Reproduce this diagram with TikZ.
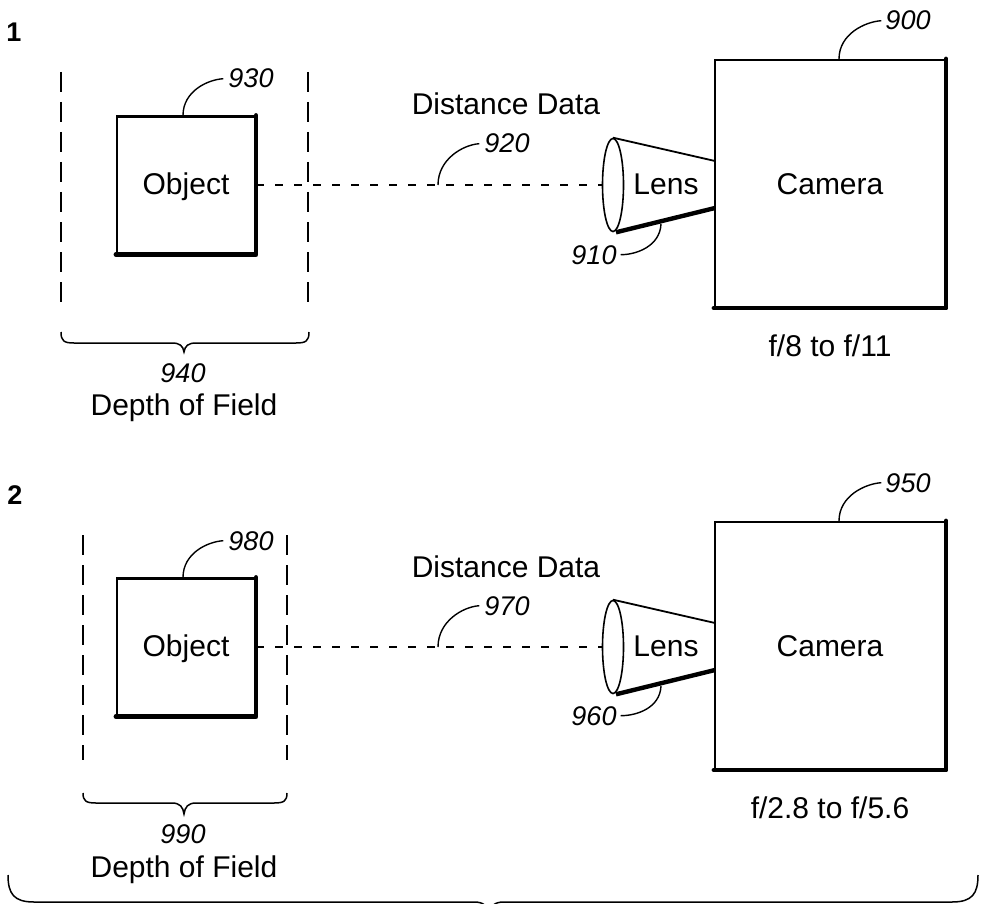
\documentclass[tikz,border=0pt]{standalone}
\usepackage{fontspec}
\setmainfont{Liberation Sans}
\usetikzlibrary{shapes.geometric}
\begin{document}
\begin{tikzpicture}[x=1pt,y=-1pt,
  txt/.style={font=\fontsize{30}{34}\selectfont,inner sep=0pt,anchor=base},
  num/.style={font=\fontsize{27}{32}\selectfont\itshape,inner sep=0pt,anchor=base},
  fig/.style={font=\fontsize{27}{32}\selectfont\bfseries,inner sep=0pt,anchor=base},
  box/.style={draw,line width=2.2pt,inner sep=0pt,font=\fontsize{30}{34}\selectfont},
  objbox/.style={box,minimum width=138pt,minimum height=137pt},
  cambox/.style={box,minimum width=230pt,minimum height=247pt},
  shadowline/.style={line width=4.6pt,line cap=round,line join=round},
  lensell/.style={draw,ellipse,line width=1.6pt,minimum width=21pt,minimum height=93pt,inner sep=0pt},
  dofline/.style={line width=2.2pt,dash pattern=on 20pt off 10pt},
  distline/.style={line width=1.8pt,dash pattern=on 8pt off 11pt},
  leader/.style={line width=1.4pt},
  bracestyle/.style={line width=1.5pt},
]
\useasboundingbox (0,0) rectangle (982,904);

% ================= Panel 1 =================
\node[fig] (n1) at (14,42) {1};
\coordinate (d1lt) at (61,72);  \coordinate (d1lb) at (61,302);
\coordinate (d1rt) at (308,72); \coordinate (d1rb) at (308,302);
\draw[dofline] (d1lt) -- (d1lb);
\draw[dofline] (d1rt) -- (d1rb);

\node[objbox] (obj1) at (186,185) {};
\node[txt] (objt1) at (186,195) {Object};
\draw[shadowline] (obj1.north east) -- (obj1.south east) -- (obj1.south west);
\node[num] (l930) at (251,88) {930};
\draw[leader] ([xshift=-3pt]obj1.north) .. controls +(0,-24) and +(-16,1) .. ([xshift=-5pt]l930.west);

\node[cambox] (cam1) at (830,183.5) {};
\node[txt] (camt1) at (830,194) {Camera};
\draw[shadowline] (cam1.north east) -- (cam1.south east) -- (cam1.south west);
\node[num] (l900) at (908,30) {900};
\draw[leader] ([xshift=9pt]cam1.north) .. controls +(0,-25) and +(-16,1) .. ([xshift=-4pt]l900.west);
\node[txt] (f1) at (830,356) {f/8 to f/11};

\node[lensell] (ell1) at (613,185) {};
\coordinate (c1t) at (715,161);
\coordinate (c1b) at (715,208);
\draw[line width=1.8pt] (ell1.north) -- (c1t);
\draw[line width=4.4pt] ([xshift=3pt]ell1.south) -- (c1b);
\node[txt] (lens1) at (666,194) {Lens};
\node[num] (l910) at (594,264) {910};
\draw[leader] (661,224) .. controls +(-1,22) and +(16,0) .. ([xshift=4pt]l910.east);

\draw[distline] (obj1.east) -- (ell1.west);
\node[txt] (dd1) at (506,115) {Distance Data};
\node[num] (l920) at (507,153) {920};
\coordinate (p920) at (438,185);
\draw[leader] (p920) .. controls +(0,-26) and +(-16,1) .. ([xshift=-5pt]l920.west);

\draw[bracestyle] (61,332) .. controls (61,341) and (64,343) .. (74,343) -- (172,343)
  .. controls (180,343) and (183,346) .. (184,352)
  .. controls (185,346) and (188,343) .. (196,343) -- (296,343)
  .. controls (306,343) and (309,341) .. (309,332);
\node[num] (l940) at (183,382) {940};
\node[txt] (dof1) at (184,415) {Depth of Field};

% ================= Panel 2 =================
\node[fig] (n2) at (15,504) {2};
\coordinate (d2lt) at (83,535);  \coordinate (d2lb) at (83,760);
\coordinate (d2rt) at (287,535); \coordinate (d2rb) at (287,760);
\draw[dofline] (d2lt) -- (d2lb);
\draw[dofline] (d2rt) -- (d2rb);

\node[objbox] (obj2) at (186,647) {};
\node[txt] (objt2) at (186,656) {Object};
\draw[shadowline] (obj2.north east) -- (obj2.south east) -- (obj2.south west);
\node[num] (l980) at (251,550) {980};
\draw[leader] ([xshift=-3pt]obj2.north) .. controls +(0,-24) and +(-16,1) .. ([xshift=-5pt]l980.west);

\node[cambox] (cam2) at (830,645.5) {};
\node[txt] (camt2) at (830,656) {Camera};
\draw[shadowline] (cam2.north east) -- (cam2.south east) -- (cam2.south west);
\node[num] (l950) at (908,492) {950};
\draw[leader] ([xshift=9pt]cam2.north) .. controls +(0,-25) and +(-16,1) .. ([xshift=-4pt]l950.west);
\node[txt] (f2) at (830,818) {f/2.8 to f/5.6};

\node[lensell] (ell2) at (613,647) {};
\coordinate (c2t) at (715,623);
\coordinate (c2b) at (715,670);
\draw[line width=1.8pt] (ell2.north) -- (c2t);
\draw[line width=4.4pt] ([xshift=3pt]ell2.south) -- (c2b);
\node[txt] (lens2) at (666,656) {Lens};
\node[num] (l960) at (594,725) {960};
\draw[leader] (661,686) .. controls +(-1,22) and +(16,0) .. ([xshift=4pt]l960.east);

\draw[distline] (obj2.east) -- (ell2.west);
\node[txt] (dd2) at (506,577) {Distance Data};
\node[num] (l970) at (507,615) {970};
\coordinate (p970) at (438,647);
\draw[leader] (p970) .. controls +(0,-26) and +(-16,1) .. ([xshift=-5pt]l970.west);

\draw[bracestyle] (83,793) .. controls (83,801) and (86,803) .. (96,803) -- (172,803)
  .. controls (180,803) and (183,807) .. (184,814)
  .. controls (185,807) and (188,803) .. (196,803) -- (274,803)
  .. controls (284,803) and (287,801) .. (287,793);
\node[num] (l990) at (183,843) {990};
\node[txt] (dof2) at (184,877) {Depth of Field};

% ================= Overall brace =================
\draw[bracestyle] (8,875) .. controls (8,894) and (14,902) .. (34,902) -- (474,902)
  .. controls (484,902) and (488,906) .. (489,916)
  .. controls (490,906) and (494,902) .. (504,902) -- (952,902)
  .. controls (972,902) and (978,894) .. (978,875);
\end{tikzpicture}
\end{document}
